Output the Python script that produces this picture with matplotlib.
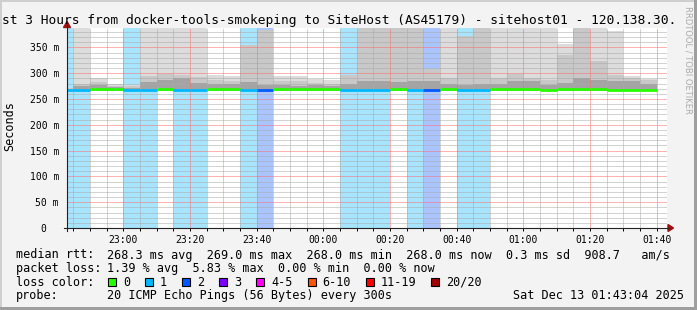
import matplotlib
matplotlib.use("Agg")
import matplotlib.pyplot as plt
from matplotlib.patches import Rectangle, Polygon
from matplotlib.lines import Line2D

W, H = 697, 310

# 5 minute slots shown on the graph
slots = ["22:40", "22:45", "22:50", "22:55", "23:00", "23:05", "23:10", "23:15",
         "23:20", "23:25", "23:30", "23:35", "23:40", "23:45", "23:50", "23:55",
         "00:00", "00:05", "00:10", "00:15", "00:20", "00:25", "00:30", "00:35",
         "00:40", "00:45", "00:50", "00:55", "01:00", "01:05", "01:10", "01:15",
         "01:20", "01:25", "01:30", "01:35"]
# lost pings (of 20) per slot
loss = [1, 1, 0, 0, 1, 1, 0, 1, 1, 0, 0, 1, 2, 0, 0, 0, 0, 1,
        1, 1, 0, 1, 2, 0, 1, 1, 0, 0, 0, 0, 0, 0, 0, 0, 0, 0]
# median rtt (ms)
median = [268.0, 267.5, 268.5, 268.5, 267.5, 267.5, 268.5, 268.0, 268.0, 268.5, 268.5, 267.5,
          267.5, 268.5, 268.5, 268.5, 268.5, 267.5, 267.5, 267.5, 268.5, 267.5, 267.5, 268.5,
          267.5, 267.5, 268.5, 268.5, 268.5, 268.0, 268.5, 268.5, 268.5, 268.0, 268.0, 268.0]
# smoke (ms): bottom, dark band top, medium band top, highest ping
smoke_lo = [266, 266, 266, 266, 266, 266, 266, 266, 266, 266, 266, 266,
            266, 266, 266, 266, 266, 266, 266, 266, 266, 266, 266, 266,
            266, 266, 266, 266, 266, 266, 266, 266, 266, 266, 266, 266]
smoke_dark = [270, 276, 277, 273, 272, 283, 287, 290, 281, 279, 280, 282,
              277, 277, 276, 277, 275, 279, 284, 285, 283, 285, 285, 280,
              278, 279, 279, 285, 284, 278, 281, 291, 287, 285, 284, 280]
smoke_mid = [271, 280, 283, 276, 275, 295, 299, 296, 292, 286, 285, 355,
             384, 285, 284, 281, 280, 296, 400, 400, 400, 400, 308, 290,
             372, 400, 291, 299, 291, 287, 335, 387, 323, 297, 290, 286]
smoke_max = [272, 400, 290, 279, 278, 400, 400, 400, 400, 297, 295, 355,
             384, 294, 294, 288, 287, 296, 400, 400, 400, 400, 308, 400,
             372, 400, 400, 400, 400, 400, 357, 387, 400, 381, 294, 288]

xtick_labels = ["23:00", "23:20", "23:40", "00:00", "00:20", "00:40", "01:00", "01:20", "01:40"]
ytick_values = [0, 50, 100, 150, 200, 250, 300, 350]
ytick_labels = ["0  ", "50 m", "100 m", "150 m", "200 m", "250 m", "300 m", "350 m"]

loss_line = {0: "#26ff00", 1: "#00b8ff", 2: "#0059ff"}
loss_bg = {1: "#a7e4fd", 2: "#aac4ff"}
legend_labels = ["0", "1", "2", "3", "4-5", "6-10", "11-19", "20/20"]
legend_colors = ["#26ff00", "#00b8ff", "#0059ff", "#7e00ff", "#ff00ff", "#ff5500", "#ff0000", "#a10000"]

median_line = "268.3 ms avg  269.0 ms max  268.0 ms min  268.0 ms now  0.3 ms sd  908.7   am/s"
loss_text = "1.39 % avg  5.83 % max  0.00 % min  0.00 % now"
probe_text = "20 ICMP Echo Pings (56 Bytes) every 300s"
stamp = "Sat Dec 13 01:43:04 2025"
title = "st 3 Hours from docker-tools-smokeping to SiteHost (AS45179) - sitehost01 - 120.138.30."

MONO = "DejaVu Sans Mono"
plt.rcParams["font.family"] = MONO


def to_min(s):
    h, m = map(int, s.split(":"))
    if h < 12:
        h += 24
    return (h - 22) * 60 + m


def fx(x):
    return x / W


def fy(y):
    return 1 - y / H


t0 = 43.07  # 22:43:04
fig = plt.figure(figsize=(W / 100, H / 100), dpi=100, facecolor="#f3f3f3")
ax = fig.add_axes([fx(67), fy(228), 600 / W, 200 / H])
ax.set_facecolor("white")
ax.set_xlim(t0, t0 + 180)
ax.set_ylim(0, 387.6)

x = [to_min(s) for s in slots]

# loss background
for xi, l in zip(x, loss):
    if l:
        ax.bar(xi, 400, width=5, align="edge", color=loss_bg[l], linewidth=0,
               antialiased=False, zorder=1)

# smoke
for top, col in [(smoke_max, "#dcdcdc"), (smoke_mid, "#c8c8c8"), (smoke_dark, "#a4a4a4")]:
    ax.bar(x, [t - b for t, b in zip(top, smoke_lo)], bottom=smoke_lo, width=5,
           align="edge", color=col, linewidth=0, antialiased=False, zorder=2)

# grid (dotted, drawn over the data like rrdtool does)
for t in range(45, 224, 5):
    major = t % 20 == 0
    ax.axvline(t, color="#ff6a6a" if major else "#a8a8a8", lw=0.72,
               ls=(0, (1, 1)), zorder=3)
for v in range(10, 388, 10):
    major = v % 50 == 0
    ax.axhline(v, color="#ff6a6a" if major else "#a8a8a8", lw=0.72,
               ls=(0, (1, 1)), zorder=3)

# median line coloured by loss
ax.hlines(median, x, [xi + 5 for xi in x], colors=[loss_line[l] for l in loss],
          lw=2.0, zorder=5)

for s in ax.spines.values():
    s.set_visible(False)
ax.set_xticks([to_min(s) for s in xtick_labels], xtick_labels)
ax.set_xticks(range(45, 224, 5), minor=True)
ax.set_yticks(ytick_values, ytick_labels)
ax.tick_params(axis="x", which="both", direction="out", length=2, width=0.7,
               color="black", labelsize=7, pad=3)
ax.tick_params(axis="y", length=0, labelsize=7, pad=5.8)

# axis lines and arrows
axis_col = "#222222"
arrow_col = "#a01010"
fig.add_artist(Line2D([fx(64), fx(669)], [fy(228), fy(228)], color=axis_col, lw=0.8))
fig.add_artist(Line2D([fx(67), fx(67)], [fy(231), fy(25)], color=axis_col, lw=0.8))
fig.add_artist(Polygon([(fx(668), fy(224.5)), (fx(673.5), fy(228)), (fx(668), fy(231.5))],
                       closed=True, color=arrow_col, transform=fig.transFigure))
fig.add_artist(Polygon([(fx(63.5), fy(27.5)), (fx(67), fy(21.5)), (fx(70.5), fy(27.5))],
                       closed=True, color=arrow_col, transform=fig.transFigure))

# title, labels, watermark
fig.text(fx(2), fy(24), title, fontsize=9.3, va="baseline", ha="left")
fig.text(fx(10), fy(126), "Seconds", fontsize=8.5, rotation=90, ha="center", va="center")
fig.text(fx(688), fy(60), "RRDTOOL / TOBI OETIKER", fontsize=6, rotation=270,
         ha="center", va="center", color="#aaaaaa", family="DejaVu Sans")

# legend
fs = 8.5
fig.text(fx(16), fy(258.5), "median rtt:", fontsize=fs, va="baseline")
fig.text(fx(107), fy(258.5), median_line, fontsize=fs, va="baseline")
fig.text(fx(16), fy(272), "packet loss:", fontsize=fs, va="baseline")
fig.text(fx(107), fy(272), loss_text, fontsize=fs, va="baseline")
fig.text(fx(16), fy(285.7), "loss color:", fontsize=fs, va="baseline")
bx = 108
for lab, col in zip(legend_labels, legend_colors):
    fig.add_artist(Rectangle((fx(bx), fy(286)), 8 / W, 8 / H, facecolor=col,
                             edgecolor="black", lw=0.8, transform=fig.transFigure))
    fig.text(fx(bx + 15), fy(285.7), lab, fontsize=fs, va="baseline")
    bx += 15 + len(lab) * 7.09 + 15
fig.text(fx(16), fy(299.3), "probe:", fontsize=fs, va="baseline")
fig.text(fx(107), fy(299.3), probe_text, fontsize=fs, va="baseline")
fig.text(fx(513), fy(299.3), stamp, fontsize=fs, va="baseline")

# 3d frame
fig.add_artist(Rectangle((0, fy(2)), 1, 2 / H, color="#cfcfcf", transform=fig.transFigure, lw=0))
fig.add_artist(Rectangle((0, 0), 2 / W, 1, color="#cfcfcf", transform=fig.transFigure, lw=0))
fig.add_artist(Rectangle((0, 0), 1, 3 / H, color="#9e9e9e", transform=fig.transFigure, lw=0))
fig.add_artist(Rectangle((fx(694), 0), 3 / W, 1, color="#9e9e9e", transform=fig.transFigure, lw=0))

fig.savefig("out.png", dpi=100, facecolor=fig.get_facecolor())
